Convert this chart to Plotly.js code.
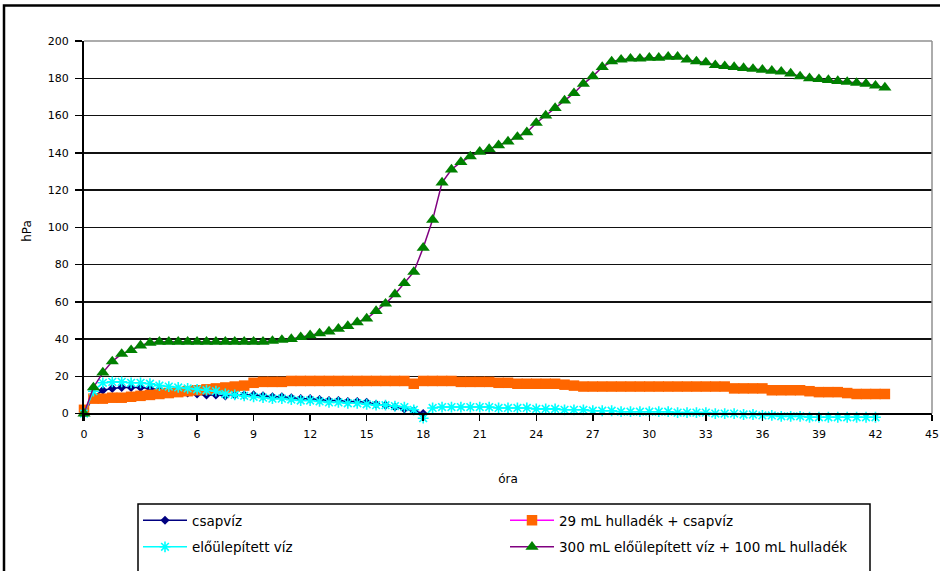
<!DOCTYPE html>
<html>
<head>
<meta charset="utf-8">
<script src="https://cdn.plot.ly/plotly-3.0.1.min.js"></script>
<style>html,body{margin:0;padding:0;background:#fff;}#chart{width:940px;height:571px;}</style>
</head>
<body>
<div id="chart"></div>
<script>
// time (óra) for each sample
var timeAll = [0,0.5,1,1.5,2,2.5,3,3.5,4,4.5,5,5.5,6,6.5,7,7.5,8,8.5,9,9.5,10,10.5,11,11.5,12,12.5,13,13.5,14,14.5,15,15.5,16,16.5,17,17.5,18,18.5,19,19.5,20,20.5,21,21.5,22,22.5,23,23.5,24,24.5,25,25.5,26,26.5,27,27.5,28,28.5,29,29.5,30,30.5,31,31.5,32,32.5,33,33.5,34,34.5,35,35.5,36,36.5,37,37.5,38,38.5,39,39.5,40,40.5,41,41.5,42,42.5];
var timeCsap = [0,0.5,1,1.5,2,2.5,3,3.5,4,4.5,5,5.5,6,6.5,7,7.5,8,8.5,9,9.5,10,10.5,11,11.5,12,12.5,13,13.5,14,14.5,15,15.5,16,16.5,17,17.5,18];
var timeElo = [0,0.5,1,1.5,2,2.5,3,3.5,4,4.5,5,5.5,6,6.5,7,7.5,8,8.5,9,9.5,10,10.5,11,11.5,12,12.5,13,13.5,14,14.5,15,15.5,16,16.5,17,17.5,18,18.5,19,19.5,20,20.5,21,21.5,22,22.5,23,23.5,24,24.5,25,25.5,26,26.5,27,27.5,28,28.5,29,29.5,30,30.5,31,31.5,32,32.5,33,33.5,34,34.5,35,35.5,36,36.5,37,37.5,38,38.5,39,39.5,40,40.5,41,41.5,42];

// series values (hPa)
var csapviz = [0,9,12.5,13.5,14,14,14,13.5,13,12.5,12,11,10.5,10,10,9.5,10,10,10,9.5,9,9,8.5,8,8,7.5,7,7,6.5,6.5,6,5,4.5,3.5,2.5,1.5,0];
var hulladekCsap = [2,8,8,8.5,8.5,9,9.5,10,10.5,11,11.5,12,12.5,13,13.5,14,14.5,15,16.5,17,17,17,17.5,17.5,17.5,17.5,17.5,17.5,17.5,17.5,17.5,17.5,17.5,17.5,17.5,16,17.5,17.5,17.5,17.5,17,17,17,17,16.5,16.5,16,16,16,16,16,15.5,15,14.5,14.5,14.5,14.5,14.5,14.5,14.5,14.5,14.5,14.5,14.5,14.5,14.5,14.5,14.5,14.5,13.5,13.5,13.5,13.5,12.5,12.5,12.5,12.5,12,11.5,11.5,11.5,11,10.5,10.5,10.5,10.5];
var eloulepitett = [0,12,16.5,17,17,16.5,16.5,16,15,14.5,14,13.5,13,12.5,12,10.5,10,9.5,9,8.5,8,8,7.5,7,7,6.5,6,6,5.5,5.5,5,4.5,4.5,4,3.5,2,-2.5,3,3.5,3.5,3.5,3.5,3.5,3.5,3,3,3,3,2.5,2.5,2.5,2,2,2,1.5,1.5,1.5,1,1,1,1,1,1,0.5,0.5,0.5,0.5,0,0,0,-0.5,-0.5,-1,-1,-1.5,-1.5,-1.5,-2,-2,-2,-2,-2,-2,-2,-2];
var eloHulladek = [0,14,22,28,32,34,36.5,38,38.5,38.5,38.5,38.5,38.5,38.5,38.5,38.5,38.5,38.5,38.5,38.5,39,39.5,40,41,42,43,44,45.5,47,49,51,55,59,64,70,76,89,104,124,131,135,138,140.5,142,144,146,148.5,151,156,160,164,168,172,177,181,186,189,190,190.5,190.5,191,191,191.5,191.5,190,189,188.5,187,186.5,186,185.5,185,184.5,184,183.5,182.5,181,180,179.5,179,178.5,178,177.5,177,176,175];

var seriesNames = ["csapvíz", "29 mL hulladék + csapvíz", "előülepített víz", "300 mL előülepített víz + 100 mL hulladék"];
var xTickVals = [0,3,6,9,12,15,18,21,24,27,30,33,36,39,42,45];
var yTickVals = [0,20,40,60,80,100,120,140,160,180,200];

var font = "DejaVu Sans, Arial, sans-serif";

// pixel geometry helpers (layout only)
var W = 940, H = 571;
var plotTop = 41, zeroPx = 420, pxPerUnit = (zeroPx - plotTop) / 200;
var yMin = -4;
var plotBottom = zeroPx - yMin * pxPerUnit;
var plotLeft = 84, plotRight = 932;
var plotH = plotBottom - plotTop, plotW = plotRight - plotLeft;
function py(p) { return (plotBottom - p) / plotH; }
function px(p) { return (p - plotLeft) / plotW; }

var traces = [
  {x: timeCsap, y: csapviz, name: seriesNames[0], type: "scatter", mode: "lines+markers",
   line: {color: "#000080", width: 1.5}, marker: {symbol: "diamond", size: 7, color: "#000080"},
   cliponaxis: false, legend: "legend"},
  {x: timeAll, y: hulladekCsap, name: seriesNames[1], type: "scatter", mode: "lines+markers",
   line: {color: "#FF00FF", width: 1.5}, marker: {symbol: "square", size: 10.5, color: "#FF6600"},
   cliponaxis: false, legend: "legend"},
  {x: timeElo, y: eloulepitett, name: seriesNames[2], type: "scatter", mode: "lines+markers",
   line: {color: "#00FFFF", width: 1.5}, marker: {symbol: "asterisk-open", size: 9, color: "#00FFFF", line: {color: "#00FFFF", width: 1.6}},
   cliponaxis: false, legend: "legend2"},
  {x: timeAll, y: eloHulladek, name: seriesNames[3], type: "scatter", mode: "lines+markers",
   line: {color: "#800080", width: 1.5}, marker: {symbol: "triangle-up", size: 11.5, color: "#008000"},
   cliponaxis: false, legend: "legend2"}
];

var legendCommon = {
  orientation: "h", xanchor: "left", yanchor: "top", x: px(138),
  bgcolor: "rgba(0,0,0,0)", borderwidth: 0, itemwidth: 44, entrywidth: 308,
  font: {family: font, size: 13.5, color: "#000"}, itemclick: false
};

var layout = {
  width: W, height: H,
  margin: {l: plotLeft, r: W - plotRight, t: plotTop, b: H - plotBottom},
  paper_bgcolor: "#ffffff", plot_bgcolor: "#ffffff",
  font: {family: font, size: 11, color: "#000"},
  showlegend: true,
  legend: Object.assign({}, legendCommon, {y: py(513)}),
  legend2: Object.assign({}, legendCommon, {y: py(540)}),
  xaxis: {
    range: [0, 45], tickvals: xTickVals, ticktext: xTickVals.map(String),
    anchor: "free", position: py(zeroPx),
    ticks: "outside", ticklen: 6, tickwidth: 1.5, tickcolor: "#000",
    showline: true, linecolor: "#000", linewidth: 2, showgrid: false, zeroline: false,
    ticklabelstandoff: 4,
    tickfont: {family: font, size: 11, color: "#000"},
    title: {text: "óra", font: {family: font, size: 12, color: "#000"}, standoff: 34}
  },
  yaxis: {
    range: [yMin, 200], tickvals: yTickVals, ticktext: yTickVals.map(String),
    ticks: "outside", ticklen: 7, tickwidth: 1.5, tickcolor: "#000",
    showline: true, linecolor: "#000", linewidth: 2,
    showgrid: true, gridcolor: "#111", gridwidth: 1.5, zeroline: false,
    ticklabelstandoff: 4,
    tickfont: {family: font, size: 11, color: "#000"},
    title: {text: "hPa", font: {family: font, size: 12, color: "#000"}, standoff: 14}
  },
  shapes: [
    {type: "line", xref: "paper", yref: "paper", x0: 0, x1: 1, y0: 1, y1: 1, line: {color: "#909090", width: 1.5}, layer: "above"},
    {type: "line", xref: "paper", yref: "paper", x0: 1, x1: 1, y0: py(zeroPx), y1: 1, line: {color: "#909090", width: 1.5}, layer: "above"},
    {type: "rect", xref: "paper", yref: "paper", x0: px(138), x1: px(870), y0: py(512), y1: py(600), line: {color: "#000", width: 1.5}, fillcolor: "rgba(0,0,0,0)", layer: "above"},
    {type: "rect", xref: "paper", yref: "paper", x0: px(4), x1: px(950), y0: py(5), y1: py(610), line: {color: "#000", width: 2.5}, fillcolor: "rgba(0,0,0,0)", layer: "above"}
  ]
};

Plotly.newPlot("chart", traces, layout, {staticPlot: true, displayModeBar: false});
</script>
</body>
</html>
